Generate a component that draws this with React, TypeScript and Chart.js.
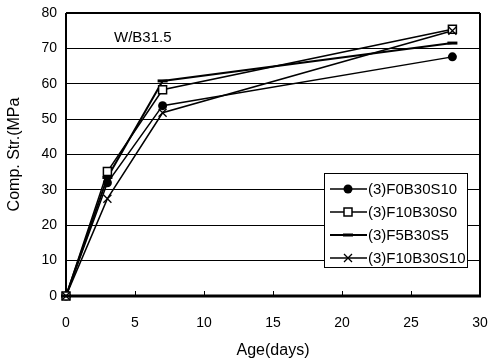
import React, { useEffect, useRef } from "react";
import { Chart, registerables } from "chart.js";

Chart.register(...registerables);

// ---- data ----
const ages = [0, 3, 7, 28];
const seriesNames = ["(3)F0B30S10", "(3)F10B30S0", "(3)F5B30S5", "(3)F10B30S10"];
const f0b30s10 = [0, 32, 53.8, 67.6];
const f10b30s0 = [0, 35.2, 58.3, 75.4];
const f5b30s5 = [0, 33.5, 60.8, 71.5];
const f10b30s10 = [0, 27.5, 51.8, 75.0];
const xTicks = [0, 5, 10, 15, 20, 25, 30];
const yTicks = [0, 10, 20, 30, 40, 50, 60, 70, 80];
const annotationText = "W/B31.5";
const xTitle = "Age(days)";
const yTitle = "Comp. Str.(MPa";

const FONT = "'Liberation Sans', Arial, sans-serif";

type Marker = "circle" | "square" | "dash" | "cross";

function drawMarker(ctx: CanvasRenderingContext2D, kind: Marker, x: number, y: number) {
  ctx.save();
  ctx.strokeStyle = "#000";
  ctx.fillStyle = "#000";
  if (kind === "circle") {
    ctx.beginPath();
    ctx.arc(x, y, 4.5, 0, Math.PI * 2);
    ctx.fill();
  } else if (kind === "square") {
    ctx.fillStyle = "#fff";
    ctx.lineWidth = 1.5;
    ctx.fillRect(x - 4, y - 4, 8, 8);
    ctx.strokeRect(x - 4, y - 4, 8, 8);
  } else if (kind === "dash") {
    ctx.fillRect(x - 5, y - 1.5, 10, 3);
  } else {
    ctx.lineWidth = 1.3;
    ctx.beginPath();
    ctx.moveTo(x - 4, y - 4);
    ctx.lineTo(x + 4, y + 4);
    ctx.moveTo(x + 4, y - 4);
    ctx.lineTo(x - 4, y + 4);
    ctx.stroke();
  }
  ctx.restore();
}

const markers: Marker[] = ["circle", "square", "dash", "cross"];

const framePlugin = {
  id: "frame",
  beforeDatasetsDraw(chart: any) {
    const { ctx, chartArea } = chart;
    const { left, right, top, bottom } = chartArea;
    const xs = chart.scales.x;
    ctx.save();
    ctx.strokeStyle = "#000";
    ctx.lineWidth = 1;
    xTicks.forEach((v) => {
      const px = Math.round(xs.getPixelForValue(v)) + 0.5;
      ctx.beginPath();
      ctx.moveTo(px, bottom);
      ctx.lineTo(px, bottom - 5);
      ctx.stroke();
    });
    ctx.lineWidth = 2;
    ctx.beginPath();
    ctx.moveTo(left, top);
    ctx.lineTo(right, top);
    ctx.moveTo(right, top);
    ctx.lineTo(right, bottom);
    ctx.moveTo(left, top);
    ctx.lineTo(left, bottom);
    ctx.stroke();
    ctx.lineWidth = 3;
    ctx.beginPath();
    ctx.moveTo(left - 1, bottom);
    ctx.lineTo(right + 1, bottom);
    ctx.stroke();
    ctx.restore();
  },
  afterDatasetsDraw(chart: any) {
    const { ctx } = chart;
    ctx.save();
    ctx.fillStyle = "#000";
    ctx.font = `15px ${FONT}`;
    ctx.textBaseline = "alphabetic";
    ctx.textAlign = "left";
    ctx.fillText(annotationText, 114, 42);
    const bx = 324.5, by = 173.5, bw = 143, bh = 94;
    ctx.fillStyle = "#fff";
    ctx.fillRect(bx, by, bw, bh);
    ctx.strokeStyle = "#000";
    ctx.lineWidth = 1;
    ctx.strokeRect(bx, by, bw, bh);
    const rows = [189, 212, 235, 258];
    chart.data.datasets.forEach((ds: any, i: number) => {
      const y = rows[i];
      ctx.strokeStyle = "#000";
      ctx.lineWidth = ds.borderWidth;
      ctx.beginPath();
      ctx.moveTo(330, y);
      ctx.lineTo(367, y);
      ctx.stroke();
      drawMarker(ctx, markers[i], 348, y);
      ctx.fillStyle = "#000";
      ctx.font = `15px ${FONT}`;
      ctx.textBaseline = "middle";
      ctx.fillText(ds.label, 368, y + 1);
    });
    ctx.restore();
  },
};

export default function App() {
  const ref = useRef<HTMLCanvasElement | null>(null);
  useEffect(() => {
    if (!ref.current) return;
    const series = [f0b30s10, f10b30s0, f5b30s5, f10b30s10];
    const datasets = series.map((vals, i) => ({
      label: seriesNames[i],
      data: ages.map((a, j) => ({ x: a, y: vals[j] })),
      borderColor: "#000",
      backgroundColor: "#000",
      borderWidth: i === 2 ? 2 : 1.5,
      pointRadius: 0,
      tension: 0,
    }));
    const markerPlugin = {
      id: "markers",
      afterDatasetsDraw(chart: any) {
        const { ctx } = chart;
        chart.data.datasets.forEach((ds: any, i: number) => {
          const meta = chart.getDatasetMeta(i);
          meta.data.forEach((pt: any) => drawMarker(ctx, markers[i], pt.x, pt.y));
        });
      },
    };
    const chart = new Chart(ref.current, {
      type: "line",
      data: { datasets },
      options: {
        animation: false,
        responsive: false,
        events: [],
        layout: { padding: { left: 0, right: 11, top: 13, bottom: 0 } },
        plugins: { legend: { display: false }, tooltip: { enabled: false } },
        scales: {
          x: {
            type: "linear",
            min: 0,
            max: 30,
            afterFit: (s: any) => { s.height = 65; s.paddingLeft = 0; s.paddingRight = 0; },
            afterBuildTicks: (s: any) => { s.ticks = xTicks.map((v) => ({ value: v })); },
            grid: { display: false, drawTicks: false },
            border: { display: false },
            ticks: { color: "#000", font: { family: FONT, size: 14 }, padding: 19 },
            title: { display: true, text: xTitle, color: "#000", font: { family: FONT, size: 16 }, padding: { top: 0, bottom: 1 } },
          },
          y: {
            type: "linear",
            min: 0,
            max: 80,
            afterFit: (s: any) => { s.width = 66; s.paddingTop = 0; s.paddingBottom = 0; },
            afterBuildTicks: (s: any) => { s.ticks = yTicks.map((v) => ({ value: v })); },
            grid: { color: "#000", lineWidth: 1, drawTicks: false },
            border: { display: false },
            ticks: { color: "#000", font: { family: FONT, size: 14 }, padding: 9 },
            title: { display: true, text: yTitle, color: "#000", font: { family: FONT, size: 16 }, padding: { top: 5, bottom: 0 } },
          },
        },
      },
      plugins: [framePlugin, markerPlugin],
    } as any);
    return () => chart.destroy();
  }, []);
  return (
    <div style={{ position: "fixed", left: 0, top: 0, width: 491, height: 361, background: "#fff" }}>
      <canvas ref={ref} width={491} height={361} style={{ width: 491, height: 361, display: "block" }} />
    </div>
  );
}
